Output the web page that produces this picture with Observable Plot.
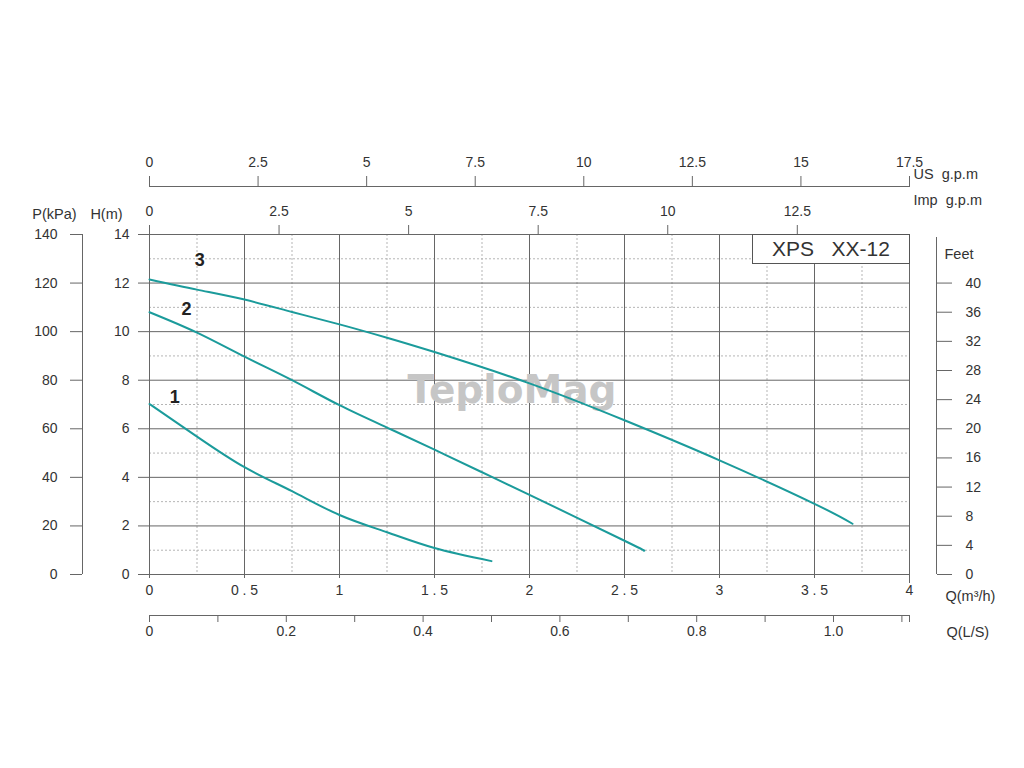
<!DOCTYPE html>
<html>
<head>
<meta charset="utf-8">
<script src="https://cdn.jsdelivr.net/npm/d3@7"></script>
<script src="https://cdn.jsdelivr.net/npm/@observablehq/plot@0.6"></script>
<style>
  html, body { margin: 0; padding: 0; background: #fff; }
  #wrap { position: relative; width: 1024px; height: 768px; font-family: "Liberation Sans", Arial, sans-serif; }
  #wrap svg { position: absolute; left: 0; top: 0; }
  #model {
    position: absolute; left: 752px; top: 234px; width: 158px; height: 30px;
    box-sizing: border-box; border: 1px solid #555; background: #fff;
    font-size: 21px; color: #333; line-height: 28px; text-align: center;
    white-space: pre;
  }
</style>
</head>
<body>
<div id="wrap"><div id="model"></div></div>
<script>
// ---- data ----
const modelName = "XPS   XX-12";
const pumpNames = ["1", "2", "3"];
const curve1Q = [0, 0.25, 0.5, 0.75, 1, 1.25, 1.5, 1.8];
const curve1H = [7.02, 5.68, 4.42, 3.43, 2.45, 1.74, 1.09, 0.55];
const curve2Q = [0, 0.25, 0.5, 0.75, 1, 1.25, 1.5, 1.75, 2, 2.5, 2.6];
const curve2H = [10.8, 9.96, 8.97, 8.0, 6.97, 6.05, 5.14, 4.21, 3.28, 1.39, 0.99];
const curve3Q = [0, 0.25, 0.5, 0.75, 1, 1.25, 1.5, 2, 2.5, 3, 3.5, 3.7];
const curve3H = [12.15, 11.73, 11.32, 10.81, 10.30, 9.75, 9.16, 7.87, 6.35, 4.70, 2.91, 2.09];
const labelQ = [0.133, 0.195, 0.265];
const labelH = [7.29, 10.94, 12.92];

const qTicks = [0, 0.5, 1, 1.5, 2, 2.5, 3, 3.5, 4];
const qMinor = [0.25, 0.75, 1.25, 1.75, 2.25, 2.75, 3.25, 3.75];
const hTicks = [0, 2, 4, 6, 8, 10, 12, 14];
const hMinor = [1, 3, 5, 7, 9, 11, 13];
const kpaTicks = [0, 20, 40, 60, 80, 100, 120, 140];
const feetTicks = [0, 4, 8, 12, 16, 20, 24, 28, 32, 36, 40];
const usTicks = [0, 2.5, 5, 7.5, 10, 12.5, 15, 17.5];
const impTicks = [0, 2.5, 5, 7.5, 10, 12.5];
const lsTicks = [0, 0.1, 0.2, 0.3, 0.4, 0.5, 0.6, 0.7, 0.8, 0.9, 1.0, 1.1];
const lsLabels = ["0", "", "0.2", "", "0.4", "", "0.6", "", "0.8", "", "1.0", ""];

// unit conversions used by the secondary axes
const usPerM3h = 17.5 / 4;      // chart end: 17.5 US gpm at 4 m3/h
const impPerM3h = 3.6662;
const m3hPerLs = 3.6;
const kpaPerM = 10;
const feetPerM = 40 / 12;       // 40 ft drawn at 12 m

// ---- build table ----
const curves = [
  ...curve1Q.map((q, i) => ({pump: pumpNames[0], q, h: curve1H[i]})),
  ...curve2Q.map((q, i) => ({pump: pumpNames[1], q, h: curve2H[i]})),
  ...curve3Q.map((q, i) => ({pump: pumpNames[2], q, h: curve3H[i]}))
];
const labels = pumpNames.map((name, i) => ({name, q: labelQ[i], h: labelH[i]}));

const ink = "#333";
const gridDark = "#666";
const gridLight = "#b5b5b5";
const teal = "#1b9b9b";
const tickFont = 14;
const titleFont = 14.5;

const spaced = d => (Number.isInteger(d) ? String(d) : String(d).split("").join(" "));
const fmt1 = v => String(Math.round(v * 10) / 10);

const title = (txt, dx, dy, anchor = "start") =>
  Plot.text([txt], {text: d => d, frameAnchor: "top-left", dx, dy, textAnchor: anchor, lineAnchor: "middle", fill: ink, fontSize: titleFont});

const plot = Plot.plot({
  width: 1024,
  height: 768,
  marginLeft: 149,
  marginRight: 115,
  marginTop: 234,
  marginBottom: 194,
  x: {domain: [0, 4], axis: null, label: null},
  y: {domain: [0, 14], axis: null, label: null},
  style: {fontFamily: "'Liberation Sans', Arial, sans-serif", fontSize: "14px", color: ink, background: "transparent"},
  marks: [
    // grid
    Plot.ruleX(qMinor, {stroke: gridLight, strokeDasharray: "2,2"}),
    Plot.ruleY(hMinor, {stroke: gridLight, strokeDasharray: "2,2"}),
    Plot.ruleX(qTicks, {stroke: gridDark}),
    Plot.ruleY(hTicks, {stroke: gridDark}),
    // watermark
    Plot.text(["TeploMag"], {text: d => d, frameAnchor: "top-left", dx: 258, dy: 168, textAnchor: "start", lineAnchor: "bottom",
      fontFamily: "'DejaVu Sans', sans-serif", fontWeight: "bold", fontSize: 39, fill: "#c6c6c6"}),
    // curves
    Plot.line(curves, {x: "q", y: "h", z: "pump", stroke: teal, strokeWidth: 2, curve: "natural"}),
    Plot.text(labels, {x: "q", y: "h", text: "name", fontWeight: "bold", fontSize: 18, fill: "#222", lineAnchor: "middle"}),

    // H(m) axis
    Plot.axisY(hTicks, {anchor: "left", label: null, tickSize: 11, tickPadding: 9, stroke: gridDark, fill: ink, fontSize: tickFont}),
    // P(kPa) axis
    Plot.ruleX([0], {dx: -67, stroke: gridDark}),
    Plot.axisY(kpaTicks.map(p => p / kpaPerM), {anchor: "left", label: null, dx: -67, tickSize: 12, tickPadding: 13,
      tickFormat: d => String(Math.round(d * kpaPerM)), stroke: gridDark, fill: ink, fontSize: tickFont}),
    // Feet axis
    Plot.ruleX([4], {dx: 27, insetTop: 3, stroke: gridDark}),
    Plot.axisY(feetTicks.map(f => f / feetPerM), {anchor: "right", label: null, dx: 27, tickSize: 15, tickPadding: 14,
      tickFormat: d => String(Math.round(d * feetPerM)), stroke: gridDark, fill: ink, fontSize: tickFont}),

    // Q(m3/h) bottom axis
    Plot.axisX(qTicks, {anchor: "bottom", label: null, tickSize: 4, tickPadding: 7, tickFormat: spaced, stroke: gridDark, fill: ink, fontSize: tickFont}),
    Plot.axisX([4], {anchor: "bottom", label: null, tickSize: 9, tickFormat: () => "", stroke: gridDark}),
    // Q(L/S) axis
    Plot.ruleY([0], {dy: 41, stroke: gridDark}),
    Plot.axisX(lsTicks.map(s => s * m3hPerLs).concat([4]), {anchor: "bottom", label: null, dy: 41, tickSize: 7, tickPadding: 4,
      tickFormat: (d, i) => (i < lsLabels.length ? lsLabels[i] : ""), stroke: gridDark, fill: ink, fontSize: tickFont}),

    // Imp g.p.m top axis (on the frame)
    Plot.axisX(impTicks.map(g => g / impPerM3h), {anchor: "top", label: null, tickSize: 10, tickPadding: 9,
      tickFormat: d => fmt1(d * impPerM3h), stroke: gridDark, fill: ink, fontSize: tickFont}),
    // US g.p.m top axis
    Plot.ruleY([14], {dy: -48, stroke: gridDark}),
    Plot.axisX(usTicks.map(g => g / usPerM3h), {anchor: "top", label: null, dy: -48, tickSize: 11, tickPadding: 9,
      tickFormat: d => fmt1(d * usPerM3h), stroke: gridDark, fill: ink, fontSize: tickFont}),

    // axis titles
    title("P(kPa)", 54 - 149, 214 - 234, "middle"),
    title("H(m)", 106 - 149, 214 - 234, "middle"),
    title("US  g.p.m", 913 - 149, 174 - 234),
    title("Imp  g.p.m", 913 - 149, 200 - 234),
    title("Feet", 944 - 149, 254 - 234),
    title("Q(m³/h)", 945 - 149, 596 - 234),
    title("Q(L/S)", 946 - 149, 632 - 234)
  ]
});

const wrap = document.getElementById("wrap");
wrap.insertBefore(plot, wrap.firstChild);
document.getElementById("model").textContent = modelName;
</script>
</body>
</html>
